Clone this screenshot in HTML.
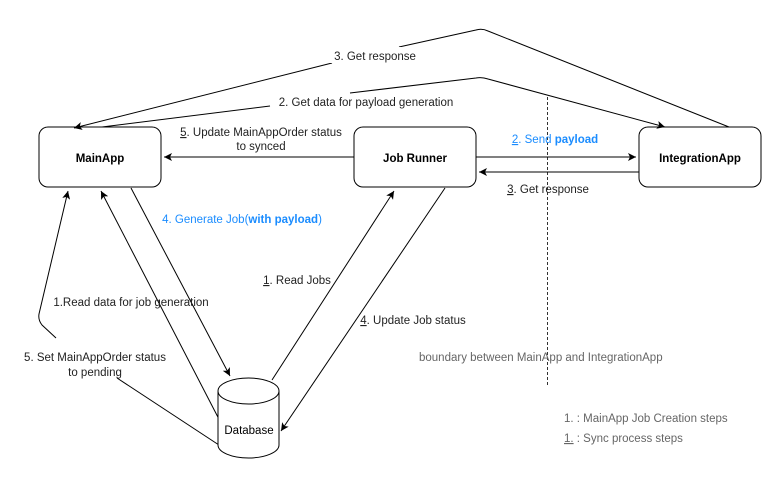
<!DOCTYPE html>
<html><head><style>
body{margin:0;background:#fff;}
svg{display:block;font-family:"Liberation Sans",sans-serif;font-size:11.5px;}
</style></head><body>
<svg width="771" height="482" viewBox="0 0 771 482" xmlns="http://www.w3.org/2000/svg">
<defs>
<marker id="a" markerWidth="10" markerHeight="10" refX="8" refY="4" orient="auto" markerUnits="userSpaceOnUse">
<path d="M0,0 L8,4 L0,8 L2,4 Z" fill="#000"/></marker>
</defs>
<g fill="none" stroke="#000" stroke-width="1">
<rect x="39" y="127" width="122" height="60" rx="9" fill="#fff"/>
<rect x="354" y="127" width="122" height="60" rx="9" fill="#fff"/>
<rect x="639" y="127" width="122" height="60" rx="9" fill="#fff"/>
<line x1="547.5" y1="97" x2="547.5" y2="387" stroke-dasharray="3 2" stroke-width="0.8"/>
<path d="M729,127 L488,31 Q482,28 476,30 L399,47"/>
<path d="M332,63 L74,128" marker-end="url(#a)"/>
<path d="M102,127 L270,106"/>
<path d="M350,93 L476,78 Q482,77 488,79 L665,127" marker-end="url(#a)"/>
<line x1="354" y1="157" x2="164" y2="157" marker-end="url(#a)"/>
<line x1="476" y1="157" x2="636" y2="157" marker-end="url(#a)"/>
<line x1="639" y1="172" x2="479" y2="172" marker-end="url(#a)"/>
<line x1="131" y1="188" x2="230" y2="376" marker-end="url(#a)"/>
<path d="M222,447 L117,378"/>
<path d="M56,338 L42,325 Q38,320 39,314 L68,191" marker-end="url(#a)"/>
<line x1="222" y1="425" x2="101" y2="191" marker-end="url(#a)"/>
<line x1="272" y1="380" x2="394" y2="191" marker-end="url(#a)"/>
<line x1="445" y1="188" x2="281" y2="431" marker-end="url(#a)"/>
<path d="M218,391 L218,445 A30.5,13 0 0 0 279,445 L279,391" fill="#fff"/>
<ellipse cx="248.5" cy="391" rx="30.5" ry="13" fill="#fff"/>
</g>
<g fill="#000" text-anchor="middle">
<text x="100" y="162" font-weight="bold">MainApp</text>
<text x="415" y="162" font-weight="bold">Job Runner</text>
<text x="700" y="162" font-weight="bold">IntegrationApp</text>
<text x="249" y="434">Database</text>
</g>
<g fill="#222" text-anchor="middle">
<rect x="330" y="47" width="90" height="16" fill="#fff"/>
<text x="375" y="60">3. Get response</text>
<rect x="272" y="94" width="178" height="15" fill="#fff"/>
<text x="366" y="106">2. Get data for payload generation</text>
<text x="261" y="136"><tspan text-decoration="underline">5</tspan>. Update MainAppOrder status</text>
<text x="261" y="150">to synced</text>
<text x="555" y="143" fill="#1a8cff"><tspan text-decoration="underline">2</tspan>. Send <tspan font-weight="bold">payload</tspan></text>
<text x="548" y="193"><tspan text-decoration="underline">3</tspan>. Get response</text>
<text x="242" y="223" fill="#1a8cff">4. Generate Job(<tspan font-weight="bold">with payload</tspan>)</text>
<text x="297" y="284"><tspan text-decoration="underline">1</tspan>. Read Jobs</text>
<text x="131" y="306">1.Read data for job generation</text>
<text x="413" y="324"><tspan text-decoration="underline">4</tspan>. Update Job status</text>
<text x="95" y="361">5. Set MainAppOrder status</text>
<text x="95" y="376">to pending</text>
</g>
<g fill="#666">
<text x="419" y="361">boundary between MainApp and IntegrationApp</text>
<text x="564" y="422">1. :  MainApp Job Creation steps</text>
<text x="564" y="442"><tspan text-decoration="underline">1.</tspan> :  Sync process steps</text>
</g>
</svg>
</body></html>
